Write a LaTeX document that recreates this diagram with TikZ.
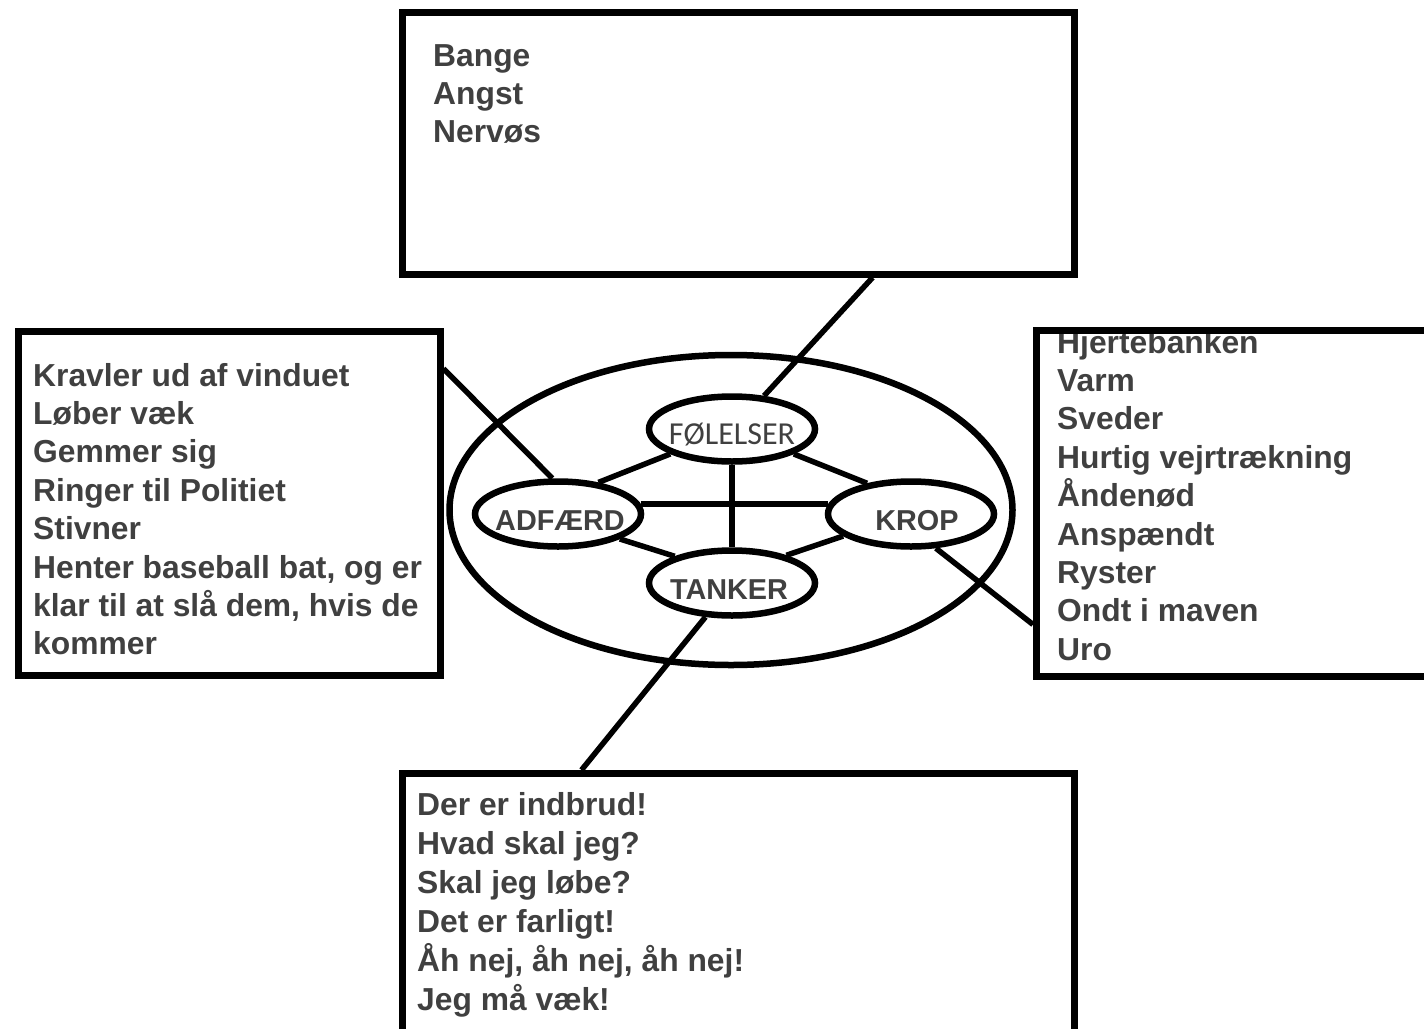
\documentclass[tikz,border=0pt]{standalone}
\usepackage{fontspec}
\setmainfont{Liberation Sans}
\newfontfamily\carlito{Carlito}
\usetikzlibrary{shapes.geometric,calc}
\pgfdeclarelayer{front}
\pgfsetlayers{main,front}
\definecolor{ink}{gray}{0.25}
\tikzset{
  frame/.style={draw=black, line width=6.5pt, rectangle, inner sep=0pt, anchor=north west},
  ring/.style={draw=black, line width=6.5pt, ellipse, inner sep=0pt},
  oval/.style={draw=black, fill=white, line width=6.5pt, ellipse, inner sep=0pt,
    minimum width=166pt, minimum height=65pt},
  tag/.style={text=ink, inner sep=0pt, yshift=-7pt,
    font=\bfseries\fontsize{28.8pt}{30pt}\selectfont},
  softtag/.style={text=ink, inner sep=0pt, yshift=-6pt,
    font=\carlito\fontsize{32pt}{33pt}\selectfont},
  link/.style={draw=black, line width=5.5pt},
  listtext/.style={anchor=base west, inner sep=0pt, text=ink,
    font=\bfseries\fontsize{31.8pt}{38.4pt}\selectfont},
  widelist/.style={listtext, font=\bfseries\fontsize{31.8pt}{39pt}\selectfont},
}

\begin{document}
\begin{tikzpicture}[x=1pt, y=-1pt]
\useasboundingbox (0,0) rectangle (1424,1028);
\clip (0,0) rectangle (1424,1028);

% the four boxes, drawn above their text
\begin{pgfonlayer}{front}
  \node[frame, minimum width=672pt, minimum height=262pt] (feel) at (399,9) {};
  \node[frame, minimum width=422pt, minimum height=344pt] (act) at (15,328) {};
  \node[frame, minimum width=430pt, minimum height=346pt] (body) at (1033,327) {};
  \node[frame, minimum width=672pt, minimum height=290pt] (thought) at (399,770) {};
\end{pgfonlayer}

% box contents
\node[listtext] (feeltxt) at (433,66) {\parbox[t]{600pt}{Bange\\Angst\\Nervøs}};
\node[listtext] (acttxt) at (33,386) {\parbox[t]{400pt}{Kravler ud af vinduet\\Løber væk\\Gemmer sig\\Ringer til Politiet\\Stivner\\Henter baseball bat, og er\\klar til at slå dem, hvis de\\kommer}};
\node[listtext] (bodytxt) at (1057,353) {\parbox[t]{400pt}{Hjertebanken\\Varm\\Sveder\\Hurtig vejrtrækning\\Åndenød\\Anspændt\\Ryster\\Ondt i maven\\Uro}};
\node[widelist] (thoughttxt) at (417,815) {\parbox[t]{600pt}{Der er indbrud!\\Hvad skal jeg?\\Skal jeg løbe?\\Det er farligt!\\Åh nej, åh nej, åh nej!\\Jeg må væk!}};

% central diagram
\node[ring, minimum width=563pt, minimum height=310pt] (ring) at (731,510) {};
\node[oval, label={[softtag]center:FØLELSER}] (fol) at (732,429) {};
\node[oval, label={[tag, xshift=2pt]center:ADFÆRD}] (adf) at (558,514) {};
\node[oval, label={[tag, xshift=6pt]center:KROP}] (krop) at (911,514) {};
\node[oval, label={[tag, xshift=-3pt]center:TANKER}] (tan) at (732,583) {};

% links between the four ovals
\draw[link] (fol.202) -- (adf.38);
\draw[link] (fol.338) -- (krop.145);
\draw[link] (fol.south) -- (tan.north);
\draw[link] (adf.7) -- (krop.173);
\draw[link] (adf.338) -- (tan.155);
\draw[link] (krop.198) -- (tan.27);

% links from the ovals to the boxes
\draw[link] (fol.46) -- ($(feel.south west)!0.698!(feel.south east)$);
\draw[link] (adf.99) -- ($(act.north east)!0.116!(act.south east)$);
\draw[link] (krop.306) -- ($(body.north west)!0.844!(body.south west)$);
\draw[link] (tan.232) -- ($(thought.north west)!0.269!(thought.north east)$);
\end{tikzpicture}
\end{document}
